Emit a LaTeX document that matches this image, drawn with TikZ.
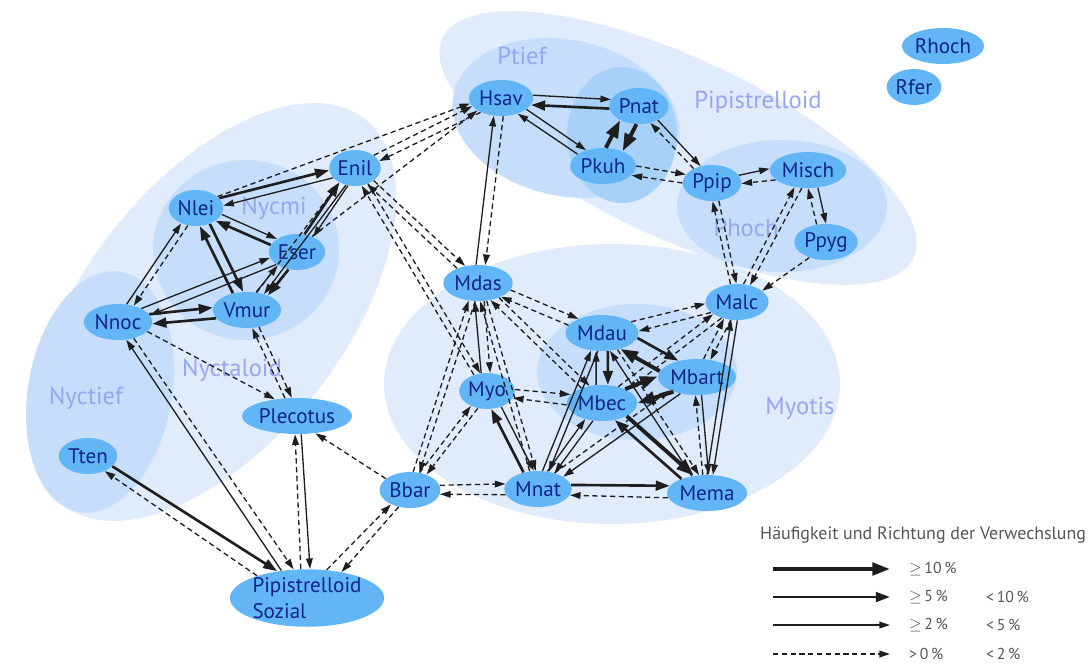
\documentclass[tikz,border=0pt]{standalone}
\usepackage{fontspec}
\setmainfont{PT Sans}
\usepackage{tikz}
\usetikzlibrary{arrows.meta, shapes.geometric, calc}
\usepackage{xcolor}

\definecolor{BatFill}{RGB}{98,182,246}
\definecolor{BatText}{RGB}{18,36,135}
\definecolor{GrpOuter}{RGB}{224,235,251}
\definecolor{GrpInner}{RGB}{198,222,251}
\definecolor{GrpCore}{RGB}{168,209,249}
\definecolor{GrpLabel}{RGB}{150,166,240}
\definecolor{EdgeBlack}{RGB}{30,30,30}
\definecolor{LegGray}{RGB}{85,85,85}

\tikzset{
  bat/.style={ellipse, fill=BatFill, text=BatText, inner sep=0.5pt,
              minimum height=0.72cm, font=\fontsize{12}{14}\selectfont},
  grplab/.style={text=GrpLabel, font=\fontsize{14}{16}\selectfont},
  leglab/.style={text=LegGray, anchor=west, font=\fontsize{9}{10}\selectfont},
  p10/.style={draw=EdgeBlack, line width=2.2pt, -{Triangle[length=10pt,width=7pt]}},
  p5/.style={draw=EdgeBlack, line width=1.5pt, -{Triangle[length=8pt,width=5.5pt]}},
  p2/.style={draw=EdgeBlack, line width=0.75pt, -{Triangle[length=6pt,width=3.8pt]}},
  p0/.style={draw=EdgeBlack, line width=0.75pt, dash pattern=on 3pt off 2pt,
             -{Triangle[length=6pt,width=3.8pt]}},
}

% directed confusion edge, shifted to its own left side
\newcommand\verw[4][9]{\draw[#2] let \p1=($(#4)-(#3)$), \n1={atan2(\y1,\x1)} in
  (#3.{\n1+#1}) -- (#4.{\n1+180-#1});}

\begin{document}
\begin{tikzpicture}[x=0.02cm, y=-0.02cm]
  \useasboundingbox (0,0) rectangle (1088,663);

  % Groups
  \fill[GrpOuter] (214,312) ellipse [x radius=4.9cm, y radius=2.6cm, rotate=52];
  \fill[GrpInner] (100,392) ellipse [x radius=1.44cm, y radius=2.44cm, rotate=-10];
  \fill[GrpInner] (246,250) ellipse [x radius=1.86cm, y radius=1.8cm];
  \fill[GrpOuter] (678,148) ellipse [x radius=5.2cm, y radius=1.8cm, rotate=-25];
  \fill[GrpInner] (566,118) ellipse [x radius=2.3cm, y radius=1.56cm, rotate=-12];
  \fill[GrpCore]  (622,135) ellipse [x radius=1.1cm, y radius=1.36cm];
  \fill[GrpInner] (782,206) ellipse [x radius=2.1cm, y radius=1.32cm];
  \fill[GrpOuter] (612,384) ellipse [x radius=4.56cm, y radius=2.8cm];
  \fill[GrpInner] (637,372) ellipse [x radius=2cm, y radius=1.36cm];

  \node[grplab] (gptief) at (522,56) {Ptief};
  \node[grplab] (gpip)   at (758,102) {Pipistrelloid};
  \node[grplab] (gnycmi) at (274,208) {Nycmi};
  \node[grplab] (gphoch) at (746,228) {Phoch};
  \node[grplab] (gnycta) at (232,370) {Nyctaloid};
  \node[grplab] (gnyct)  at (86,398)  {Nyctief};
  \node[grplab] (gmyot)  at (800,408) {Myotis};

  % Species
  \node[bat] (Rhoch) at (943,46)  {Rhoch};
  \node[bat] (Rfer)  at (914,87)  {Rfer};
  \node[bat] (Hsav)  at (501,98)  {Hsav};
  \node[bat] (Pnat)  at (639,106) {Pnat};
  \node[bat] (Pkuh)  at (603,166) {Pkuh};
  \node[bat] (Ppip)  at (712,183) {Ppip};
  \node[bat] (Misch) at (808,170) {Misch};
  \node[bat] (Ppyg)  at (826,242) {Ppyg};
  \node[bat] (Enil)  at (355,168) {Enil};
  \node[bat] (Nlei)  at (196,208) {Nlei};
  \node[bat] (Eser)  at (297,252) {Eser};
  \node[bat] (Vmur)  at (247,310) {Vmur};
  \node[bat] (Nnoc)  at (118,322) {Nnoc};
  \node[bat] (Mdas)  at (478,283) {Mdas};
  \node[bat] (Malc)  at (737,302) {Malc};
  \node[bat] (Mdau)  at (602,333) {Mdau};
  \node[bat] (Mbart) at (697,377) {Mbart};
  \node[bat] (Myo)   at (487,391) {Myo};
  \node[bat] (Mbec)  at (602,403) {Mbec};
  \node[bat] (Plecotus) at (297,416) {Plecotus};
  \node[bat] (Tten)  at (88,456)  {Tten};
  \node[bat] (Bbar)  at (410,490) {Bbar};
  \node[bat] (Mnat)  at (538,489) {Mnat};
  \node[bat] (Mema)  at (707,493) {Mema};
  \node[bat, inner sep=0pt, align=left, font=\fontsize{12}{14.5}\selectfont]
    (PS) at (307,598) {Pipistrelloid\\Sozial};

  % Nyctaloid edges
  \verw{p5}{Nlei}{Enil}
  \verw{p2}{Enil}{Nlei}
  \verw{p5}{Eser}{Nlei}
  \verw{p2}{Nlei}{Eser}
  \verw[14]{p5}{Nlei}{Vmur}
  \verw[14]{p5}{Vmur}{Nlei}
  \verw{p2}{Nnoc}{Nlei}
  \verw{p0}{Nlei}{Nnoc}
  \verw{p2}{Nnoc}{Eser}
  \verw{p2}{Eser}{Nnoc}
  \verw{p5}{Nnoc}{Vmur}
  \verw{p5}{Vmur}{Nnoc}
  \verw[14]{p2}{Vmur}{Eser}
  \verw[14]{p5}{Eser}{Vmur}
  \verw[12]{p5}{Eser}{Enil}
  \verw[12]{p2}{Enil}{Eser}
  \verw{p2}{Enil}{Vmur}
  \verw{p0}{Vmur}{Enil}
  \verw{p0}{Nlei}{Hsav}
  \verw{p0}{Enil}{Hsav}
  \verw{p0}{Hsav}{Enil}
  \verw{p0}{Eser}{Hsav}

  % towards Pipistrelloid Sozial
  \verw{p0}{Nnoc}{PS}
  \verw{p2}{PS}{Nnoc}
  \verw{p0}{Nnoc}{Plecotus}
  \verw{p0}{Vmur}{Plecotus}
  \verw{p0}{Plecotus}{Vmur}
  \verw{p5}{Tten}{PS}
  \verw{p0}{PS}{Tten}
  \verw{p2}{Plecotus}{PS}
  \verw{p0}{PS}{Plecotus}
  \verw{p0}{Bbar}{Plecotus}
  \verw{p0}{Bbar}{PS}
  \verw{p0}{PS}{Bbar}

  % Bbar
  \verw{p0}{Bbar}{Mnat}
  \verw{p0}{Mnat}{Bbar}
  \verw{p0}{Bbar}{Mdas}
  \verw{p0}{Mdas}{Bbar}
  \verw{p0}{Bbar}{Myo}
  \verw{p0}{Myo}{Bbar}

  % Enil, Hsav down to Myotis
  \verw{p0}{Enil}{Mdas}
  \verw{p0}{Mdas}{Enil}
  \verw{p0}{Enil}{Myo}
  \verw{p0}{Myo}{Enil}
  \verw[14]{p2}{Mdas}{Hsav}
  \verw[14]{p0}{Hsav}{Mdas}

  % Pipistrelloid edges
  \verw{p2}{Hsav}{Pnat}
  \verw{p5}{Pnat}{Hsav}
  \verw{p2}{Hsav}{Pkuh}
  \verw{p2}{Pkuh}{Hsav}
  \verw[22]{p10}{Pkuh}{Pnat}
  \verw[22]{p10}{Pnat}{Pkuh}
  \verw{p2}{Pnat}{Ppip}
  \verw{p0}{Ppip}{Pnat}
  \verw{p0}{Pkuh}{Ppip}
  \verw{p0}{Ppip}{Pkuh}
  \verw{p2}{Ppip}{Misch}
  \verw{p0}{Misch}{Ppip}
  \verw[14]{p2}{Misch}{Ppyg}
  \verw[14]{p0}{Ppyg}{Misch}
  \verw{p0}{Ppip}{Malc}
  \verw{p0}{Malc}{Ppip}
  \verw{p0}{Misch}{Malc}
  \verw{p0}{Malc}{Misch}
  \verw{p0}{Ppyg}{Malc}

  % Myotis edges
  \verw{p0}{Mdas}{Mdau}
  \verw{p0}{Mdau}{Mdas}
  \verw{p0}{Mdas}{Mbec}
  \verw{p0}{Mbec}{Mdas}
  \verw[14]{p0}{Mdas}{Myo}
  \verw[14]{p2}{Myo}{Mdas}
  \verw{p0}{Mdas}{Mnat}
  \verw{p0}{Mnat}{Mdas}
  \verw{p0}{Myo}{Mbec}
  \verw{p0}{Mbec}{Myo}
  \verw[14]{p5}{Mnat}{Myo}
  \verw[14]{p2}{Myo}{Mnat}
  \verw{p2}{Mnat}{Mdau}
  \verw{p2}{Mdau}{Mnat}
  \verw{p2}{Mnat}{Mbec}
  \verw{p2}{Mbec}{Mnat}
  \verw{p2}{Mbart}{Mnat}
  \verw{p0}{Mnat}{Mbart}
  \verw{p5}{Mnat}{Mema}
  \verw{p0}{Mema}{Mnat}
  \verw[18]{p5}{Mdau}{Mbec}
  \verw[18]{p2}{Mbec}{Mdau}
  \verw[16]{p5}{Mdau}{Mbart}
  \verw[16]{p10}{Mbart}{Mdau}
  \verw[16]{p10}{Mbec}{Mbart}
  \verw[16]{p10}{Mbart}{Mbec}
  \verw[12]{p10}{Mbec}{Mema}
  \verw[12]{p5}{Mema}{Mbec}
  \verw{p2}{Mema}{Mdau}
  \verw{p0}{Mdau}{Mema}
  \verw{p2}{Mbart}{Mema}
  \verw{p0}{Mema}{Mbart}
  \verw{p2}{Malc}{Mema}
  \verw{p2}{Mema}{Malc}
  \verw{p0}{Malc}{Mdau}
  \verw{p0}{Mdau}{Malc}
  \verw{p0}{Malc}{Mbart}
  \verw{p0}{Mbart}{Malc}
  \verw{p0}{Malc}{Mbec}
  \verw{p0}{Mbec}{Malc}

  % Legend
  \node[leglab, font=\fontsize{10.2}{12}\selectfont] (legtitle) at (754,535)
    {Häufigkeit und Richtung der Verwechslung};
  \coordinate (l10a) at (773,569); \coordinate (l10b) at (890,569);
  \coordinate (l5a)  at (773,597); \coordinate (l5b)  at (890,597);
  \coordinate (l2a)  at (773,625); \coordinate (l2b)  at (890,625);
  \coordinate (l0a)  at (773,654); \coordinate (l0b)  at (890,654);
  \draw[p10] (l10a) -- (l10b);
  \draw[p5]  (l5a)  -- (l5b);
  \draw[p2]  (l2a)  -- (l2b);
  \draw[p0]  (l0a)  -- (l0b);
  \node[leglab] (t10a) at (903,569) {$\geq$\,10\,\%};
  \node[leglab] (t5a)  at (903,597) {$\geq$\,5\,\%};
  \node[leglab] (t5b)  at (980,597) {<\,10\,\%};
  \node[leglab] (t2a)  at (903,625) {$\geq$\,2\,\%};
  \node[leglab] (t2b)  at (980,625) {<\,5\,\%};
  \node[leglab] (t0a)  at (903,654) {>\,0\,\%};
  \node[leglab] (t0b)  at (980,654) {<\,2\,\%};
\end{tikzpicture}
\end{document}
